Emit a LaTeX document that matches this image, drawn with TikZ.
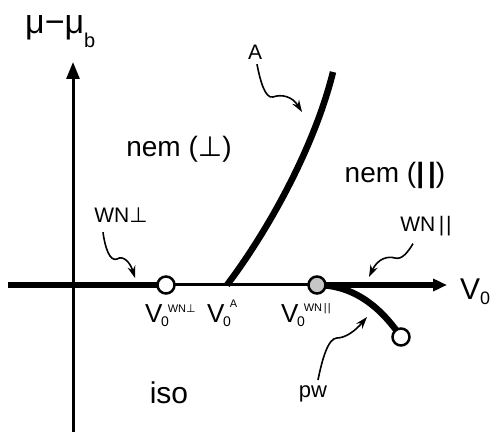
\documentclass[tikz,border=0pt]{standalone}
\usepackage{fontspec}
\setmainfont{Liberation Sans}
\newfontfamily\dv{DejaVu Sans}
\usetikzlibrary{arrows.meta}
\newcommand\fs[1]{\fontsize{#1}{#1}\selectfont}
\newcommand\Vlab[2]{{\fs{26}V}\kern-1.5pt\raisebox{-3pt}{\fs{14}0}\kern-1pt\raisebox{#1}{\fs{11}#2}}
\newcommand\dbar[1]{|\kern#1|}
\tikzset{
  thin axis/.style={line width=3pt},
  thick line/.style={line width=6.5pt},
  squiggle/.style={line width=1.6pt,-{Stealth[length=12pt,width=8pt]}},
  dot/.style={circle,draw,line width=2.5pt,fill=white,minimum size=17pt,inner sep=0pt},
  lab/.style={inner sep=0pt,anchor=base}
}
\begin{document}
\begin{tikzpicture}[x=1pt,y=-1pt]
\useasboundingbox (0,0) rectangle (492,435);
% key points
\coordinate (xl) at (8,285);
\coordinate (p1) at (166,285);
\coordinate (a0) at (227,285);
\coordinate (p2) at (317,285);
\coordinate (xr) at (447,285);
\coordinate (p3) at (401,337);
\coordinate (yb) at (73,432);
\coordinate (yt) at (73,62);
\coordinate (at) at (333,72);
% axes
\draw[thin axis,-{Triangle[length=17pt,width=13pt]}] (yb) -- (yt);
\draw[thin axis] (p1) -- (p2);
\draw[thick line] (xl) -- (p1);
\draw[thick line,-{Triangle[length=14pt,width=12pt]}] (p2) -- (xr);
% curves
\draw[thick line] (a0) .. controls (270,228) and (315,145) .. (at);
\draw[thick line] (p2) .. controls (350,285) and (378,303) .. (p3);
% circles
\node[dot] (c1) at (p1) {};
\node[dot,fill=gray!45] (c2) at (p2) {};
\node[dot] (c3) at (p3) {};
% labels
\node[lab,anchor=base west] (mu) at (25,34) {\fs{34}μ−μ\raisebox{-14pt}{\fs{20}b}};
\node[lab] (la) at (255,60) {\fs{21}A};
\node[lab] (nemp) at (179,157) {\fs{28}nem ({\dv ⊥})};
\node[lab] (nemq) at (395,183) {\fs{28}nem ({\bfseries\dbar{4pt}})};
\node[lab] (iso) at (169,403) {\fs{30}iso};
\node[lab] (pw) at (313,397) {\fs{22}pw};
\node[lab] (wnp) at (121,223) {\fs{21}WN{\dv ⊥}};
\node[lab] (wnq) at (426,232) {\fs{21}WN\,\dbar{2pt}};
\node[lab,anchor=base west] (v1) at (145,323) {\Vlab{10pt}{WN{\dv ⊥}}};
\node[lab,anchor=base west] (v2) at (207,323) {\Vlab{16pt}{A}};
\node[lab,anchor=base west] (v3) at (281,323) {\Vlab{11pt}{WN\,\dbar{1pt}}};
\node[lab,anchor=base west] (v0) at (460,300) {{\fs{30}V}\raisebox{-5pt}{\fs{18}0}};
% squiggle arrows
\draw[squiggle] (la.south) ++(2,4) .. controls (260,80) and (265,99) .. (273,97) .. controls (281,94) and (292,96) .. (302,112);
\draw[squiggle] (wnp.south) ++(-18,9) .. controls (105,248) and (110,262) .. (117,259) .. controls (123,255) and (130,262) .. (135,278);
\draw[squiggle] (wnq.south) ++(-13,7) .. controls (408,252) and (402,260) .. (395,258) .. controls (388,256) and (378,258) .. (369,277);
\draw[squiggle] (pw.north) ++(5,-5) .. controls (322,360) and (328,338) .. (337,338) .. controls (346,338) and (356,330) .. (367,317);
\end{tikzpicture}
\end{document}
